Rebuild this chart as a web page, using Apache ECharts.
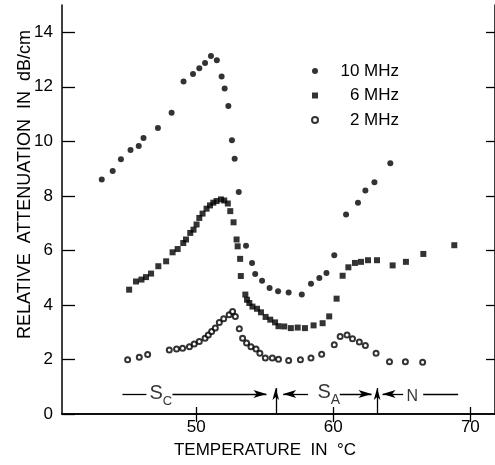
<!DOCTYPE html>
<html>
<head>
<meta charset="utf-8">
<script src="https://cdn.jsdelivr.net/npm/echarts@6/dist/echarts.min.js"></script>
<style>html,body{margin:0;padding:0;background:#fff}#c{width:495px;height:465px}</style>
</head>
<body>
<div id="c"></div>
<script>
// ---- data ----
const xTickValues = [50, 60, 70];
const yTickValues = [0, 2, 4, 6, 8, 10, 12, 14];
const yRightTickValues = [2, 4, 6, 8, 10, 12, 14];

const mhz10 = [
  [43.1, 8.6], [43.9, 8.91], [44.5, 9.34], [45.2, 9.68], [45.8, 9.83], [46.15, 10.12],
  [47.2, 10.49], [48.2, 11.05], [49.07, 12.19], [49.76, 12.47], [50.22, 12.68], [50.64, 12.87],
  [51.07, 13.13], [51.5, 12.97], [51.85, 12.38], [52.07, 11.94], [52.34, 11.3], [52.6, 10.04],
  [52.8, 9.36], [53.1, 8.14], [53.63, 6.17], [54.07, 5.54], [54.3, 5.13], [54.8, 4.89],
  [55.35, 4.62], [55.97, 4.5], [56.74, 4.46], [57.7, 4.38], [58.37, 4.78], [58.98, 4.99],
  [59.5, 5.17], [60.07, 5.82], [60.93, 7.32], [61.8, 7.75], [62.34, 8.2], [63.0, 8.5], [64.16, 9.2]
];
const mhz6 = [
  [45.1, 4.56], [45.6, 4.86], [46.0, 4.93], [46.33, 5.02], [46.7, 5.15], [47.23, 5.42],
  [47.8, 5.6], [48.27, 5.93], [48.64, 6.05], [49.05, 6.27], [49.25, 6.4], [49.56, 6.64],
  [49.8, 6.76], [50.02, 6.95], [50.22, 7.19], [50.46, 7.35], [50.75, 7.53], [51.0, 7.65],
  [51.24, 7.75], [51.48, 7.81], [51.8, 7.87], [52.04, 7.83], [52.3, 7.72], [52.48, 7.44],
  [52.72, 7.03], [52.94, 6.4], [53.02, 6.15], [53.2, 5.69], [53.25, 5.06], [53.58, 4.38],
  [53.7, 4.19], [53.87, 4.07], [54.1, 3.94], [54.43, 3.86], [54.72, 3.73], [55.06, 3.56],
  [55.4, 3.46], [55.75, 3.36], [56.0, 3.22], [56.42, 3.21], [56.9, 3.15], [57.4, 3.17],
  [57.93, 3.15], [58.56, 3.25], [59.22, 3.33], [59.7, 3.58], [60.24, 4.23], [60.68, 5.07],
  [61.1, 5.38], [61.58, 5.54], [62.02, 5.58], [62.53, 5.64], [63.19, 5.64], [64.33, 5.45],
  [65.3, 5.58], [66.57, 5.87], [68.83, 6.19]
];
const mhz2 = [
  [44.99, 1.99], [45.84, 2.08], [46.45, 2.18], [48.03, 2.35], [48.56, 2.38], [49.0, 2.41],
  [49.5, 2.47], [49.85, 2.57], [50.22, 2.66], [50.64, 2.78], [50.88, 2.9], [51.12, 3.03],
  [51.39, 3.15], [51.68, 3.36], [52.0, 3.49], [52.4, 3.64], [52.65, 3.76], [52.85, 3.58],
  [53.14, 3.13], [53.38, 2.78], [53.67, 2.6], [53.99, 2.47], [54.36, 2.38], [54.64, 2.23],
  [55.04, 2.05], [55.55, 2.05], [56.0, 2.01], [56.74, 1.96], [57.6, 1.99], [58.37, 2.05],
  [59.15, 2.19], [60.07, 2.54], [60.5, 2.84], [61.0, 2.9], [61.4, 2.76], [61.9, 2.64],
  [62.34, 2.51], [63.12, 2.23], [64.1, 1.92], [65.26, 1.92], [66.52, 1.9]
];
const seriesNames = ['10 MHz', '6 MHz', '2 MHz'];

// phase annotations (data coordinates)
const phaseBoundaries = [55.8, 63.2];
const phaseBoundaryTop = 0.95;
const phaseArrowY = 0.73;
// [from x, to x, arrow at end?]
const phaseSegments = [
  [44.61, 46.36, false],
  [48.26, 55.12, true],
  [58.16, 56.34, true],
  [60.47, 62.79, true],
  [65.1, 63.59, true],
  [66.56, 69.11, false]
];
const phaseLabels = [
  { x: 47.41, y: 0.68, text: '{s|S}{c|C}' },
  { x: 59.67, y: 0.70, text: '{s|S}{a|A}' },
  { x: 65.77, y: 0.64, text: '{n|N}' }
];

// ---- chart ----
const FONT = '"Liberation Sans", Arial, sans-serif';
const INK = '#000';
const chart = echarts.init(document.getElementById('c'), null, { renderer: 'canvas' });

const markLineData = [];
phaseSegments.forEach(s => {
  markLineData.push([
    { coord: [s[0], phaseArrowY], symbol: 'none' },
    { coord: [s[1], phaseArrowY], symbol: s[2] ? 'arrow' : 'none', symbolSize: [6, 13] }
  ]);
});
phaseBoundaries.forEach(x => {
  markLineData.push([
    { coord: [x, 0], symbol: 'none' },
    { coord: [x, phaseBoundaryTop], symbol: 'arrow', symbolSize: [5, 12] }
  ]);
});

chart.setOption({
  animation: false,
  backgroundColor: '#fff',
  grid: { left: 62, top: 5, width: 433, height: 409 },
  legend: {
    orient: 'vertical', left: 306, top: 57,
    itemWidth: 6, itemHeight: 6, itemGap: 6.5,
    selectedMode: false,
    data: [
      { name: '10 MHz', icon: 'circle' },
      { name: '6 MHz', icon: 'rect', itemStyle: { color: INK } },
      { name: '2 MHz', icon: 'emptyCircle' }
    ],
    formatter: n => '{r|' + n + '}',
    textStyle: {
      fontFamily: FONT, fontSize: 17, color: INK, lineHeight: 18,
      rich: { r: { width: 76, align: 'right', fontFamily: FONT, fontSize: 17, color: INK, lineHeight: 18 } }
    }
  },
  xAxis: [{
    type: 'value', position: 'bottom', min: 40.2, max: 71.8,
    axisLine: { show: true, lineStyle: { color: INK, width: 1.5 } },
    axisTick: { show: true, inside: true, length: 7, customValues: xTickValues, lineStyle: { color: INK, width: 1.3 } },
    axisLabel: { show: true, customValues: xTickValues, margin: 5, fontFamily: FONT, fontSize: 17, color: INK },
    splitLine: { show: false }
  }, {
    type: 'value', position: 'top', min: 40.2, max: 71.8,
    axisLine: { show: true, lineStyle: { color: INK, width: 1.5 } },
    axisTick: { show: true, inside: true, length: 8, customValues: xTickValues, lineStyle: { color: INK, width: 1.3 } },
    axisLabel: { show: false },
    splitLine: { show: false }
  }],
  yAxis: [{
    type: 'value', position: 'left', min: 0, max: 15,
    axisLine: { show: true, lineStyle: { color: INK, width: 1.5 } },
    axisTick: { show: true, inside: true, length: 13, customValues: yTickValues, lineStyle: { color: INK, width: 1.3 } },
    axisLabel: { show: true, customValues: yTickValues, margin: 9, fontFamily: FONT, fontSize: 17, color: INK },
    splitLine: { show: false }
  }, {
    type: 'value', position: 'right', min: 0, max: 15,
    axisLine: { show: true, lineStyle: { color: INK, width: 1.5 } },
    axisTick: { show: true, inside: true, length: 9, customValues: yRightTickValues, lineStyle: { color: INK, width: 1.3 } },
    axisLabel: { show: false },
    splitLine: { show: false }
  }],
  graphic: [
    { type: 'text', left: 16, top: 30, rotation: Math.PI / 2,
      style: { text: 'RELATIVE  ATTENUATION  IN  dB/cm', font: '18px ' + FONT, fill: INK } },
    { type: 'text', x: 265, y: 450,
      style: { text: 'TEMPERATURE  IN  °C', font: '17px ' + FONT, fill: INK, align: 'center', verticalAlign: 'middle' } }
  ],
  series: [
    { name: seriesNames[0], type: 'scatter', data: mhz10, symbol: 'circle', symbolSize: 6,
      itemStyle: { color: INK } },
    { name: seriesNames[1], type: 'scatter', data: mhz6, symbol: 'rect', symbolSize: 6,
      itemStyle: { color: INK } },
    { name: seriesNames[2], type: 'scatter', data: mhz2, symbol: 'emptyCircle', symbolSize: 5,
      itemStyle: { color: INK, borderColor: INK, borderWidth: 1 } },
    { name: 'phases', type: 'scatter', symbolSize: 0, silent: true,
      data: phaseLabels.map(p => [p.x, p.y]),
      label: {
        show: true, position: 'inside',
        formatter: p => phaseLabels[p.dataIndex].text,
        rich: {
          s: { fontFamily: FONT, fontSize: 20, color: INK, lineHeight: 24, verticalAlign: 'top' },
          c: { fontFamily: FONT, fontSize: 13, color: INK, lineHeight: 14, verticalAlign: 'bottom' },
          a: { fontFamily: FONT, fontSize: 14, color: INK, lineHeight: 10, verticalAlign: 'bottom' },
          n: { fontFamily: FONT, fontSize: 16, color: INK, lineHeight: 24 }
        }
      },
      markLine: {
        silent: true, animation: false,
        label: { show: false },
        lineStyle: { color: INK, width: 1.3, type: 'solid' },
        emphasis: { disabled: true },
        data: markLineData
      }
    }
  ]
});
</script>
</body>
</html>
